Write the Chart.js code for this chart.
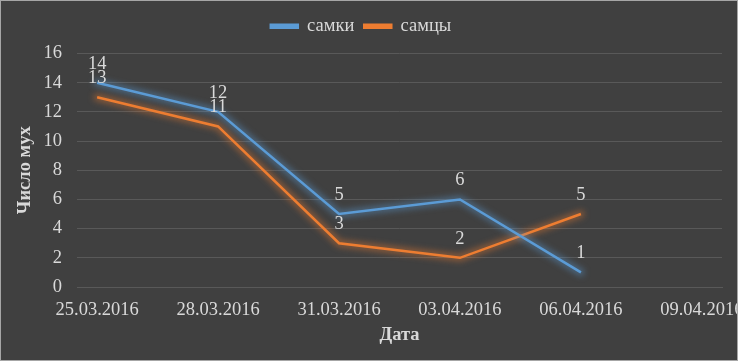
<!DOCTYPE html>
<html>
<head>
<meta charset="utf-8">
<script src="https://cdn.jsdelivr.net/npm/chart.js@4"></script>
<style>
  html, body { margin: 0; padding: 0; background: #404040; }
  #wrap { width: 738px; height: 361px; }
</style>
</head>
<body>
<div id="wrap"><canvas id="chart" width="738" height="361"></canvas></div>
<script>
// days since 25.03.2016
const days = [0, 3, 6, 9, 12];
const tickDays = [0, 3, 6, 9, 12, 15];
const tickLabels = ['25.03.2016', '28.03.2016', '31.03.2016', '03.04.2016', '06.04.2016', '09.04.2016'];
const females = [14, 12, 5, 6, 1];
const males = [13, 11, 3, 2, 5];

const font = 'Liberation Serif';
const fontSize = 18.5;
const textColor = '#d9d9d9';

const bgPlugin = {
    id: 'bg',
    beforeInit(chart) {
        // extra gap under the legend
        const legend = chart.legend;
        if (legend) {
            const fit = legend.fit;
            legend.fit = function () {
                fit.call(this);
                this.height += 8;
            };
        }
    },
    beforeDraw(chart) {
        const ctx = chart.ctx;
        ctx.save();
        ctx.fillStyle = '#404040';
        ctx.fillRect(0, 0, chart.width, chart.height);
        ctx.restore();
    },
    afterDraw(chart) {
        const ctx = chart.ctx;
        ctx.save();
        ctx.strokeStyle = '#a6a6a6';
        ctx.lineWidth = 1;
        ctx.strokeRect(0.5, 0.5, chart.width - 1, chart.height - 1);
        ctx.restore();
    }
};

// soft glow under each line, drawn through the points the library placed
const glowPlugin = {
    id: 'glow',
    beforeDatasetDraw(chart, args) {
        const ctx = chart.ctx;
        const pts = args.meta.data;
        ctx.save();
        ctx.filter = 'blur(3px)';
        ctx.strokeStyle = chart.data.datasets[args.index].glow;
        ctx.lineWidth = 7;
        ctx.lineJoin = 'round';
        ctx.lineCap = 'round';
        ctx.beginPath();
        pts.forEach((p, i) => i ? ctx.lineTo(p.x, p.y) : ctx.moveTo(p.x, p.y));
        ctx.stroke();
        ctx.restore();
    }
};

const labelPlugin = {
    id: 'valueLabels',
    afterDatasetsDraw(chart) {
        const ctx = chart.ctx;
        ctx.save();
        ctx.font = fontSize + 'px "' + font + '"';
        ctx.fillStyle = textColor;
        ctx.textAlign = 'center';
        ctx.textBaseline = 'middle';
        chart.data.datasets.forEach((ds, i) => {
            chart.getDatasetMeta(i).data.forEach((pt, j) => {
                ctx.fillText(ds.data[j].y, pt.x, pt.y - 19);
            });
        });
        ctx.restore();
    }
};

const ctx = document.getElementById('chart').getContext('2d');
new Chart(ctx, {
    type: 'line',
    data: {
        datasets: [
            {
                label: 'самки',
                data: days.map((d, i) => ({ x: d, y: females[i] })),
                borderColor: '#5b9bd5',
                backgroundColor: '#5b9bd5',
                glow: 'rgba(91,155,213,0.45)',
                borderWidth: 2.5,
                pointRadius: 0
            },
            {
                label: 'самцы',
                data: days.map((d, i) => ({ x: d, y: males[i] })),
                borderColor: '#ed7d31',
                backgroundColor: '#ed7d31',
                glow: 'rgba(237,125,49,0.45)',
                borderWidth: 2.5,
                pointRadius: 0
            }
        ]
    },
    options: {
        responsive: false,
        animation: false,
        layout: { padding: { top: 7, right: 16, bottom: 0, left: 0 } },
        plugins: {
            tooltip: { enabled: false },
            legend: {
                position: 'top',
                labels: {
                    color: textColor,
                    font: { family: font, size: fontSize },
                    boxWidth: 27,
                    boxHeight: 3,
                    padding: 10
                }
            }
        },
        scales: {
            x: {
                type: 'linear',
                min: -0.5,
                max: 15.5,
                afterBuildTicks(scale) {
                    scale.ticks = tickDays.map(v => ({ value: v }));
                },
                afterFit(scale) {
                    scale.height = 74;
                    scale.paddingLeft = 0;
                    scale.paddingRight = 0;
                },
                ticks: {
                    color: textColor,
                    font: { family: font, size: fontSize },
                    padding: 12,
                    maxRotation: 0,
                    autoSkip: false,
                    callback: (v) => tickLabels[tickDays.indexOf(v)]
                },
                grid: { display: false, drawTicks: false },
                border: { display: true, color: '#595959' },
                title: {
                    display: true,
                    text: 'Дата',
                    color: textColor,
                    font: { family: font, size: fontSize, weight: 'bold' },
                    padding: { top: 0, bottom: 15 }
                }
            },
            y: {
                min: 0,
                max: 16,
                afterFit(scale) {
                    scale.width = 77;
                },
                ticks: {
                    stepSize: 2,
                    color: textColor,
                    font: { family: font, size: fontSize },
                    padding: 15
                },
                grid: { color: '#595959', drawTicks: false },
                border: { display: false },
                title: {
                    display: true,
                    text: 'Число мух',
                    color: textColor,
                    font: { family: font, size: fontSize, weight: 'bold' },
                    padding: { top: 14, bottom: 0 }
                }
            }
        }
    },
    plugins: [bgPlugin, glowPlugin, labelPlugin]
});
</script>
</body>
</html>
